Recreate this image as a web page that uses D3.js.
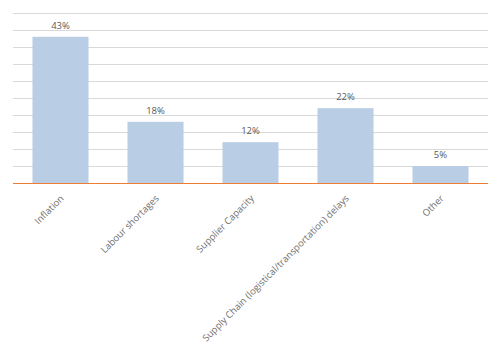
<!DOCTYPE html>
<html><head><meta charset="utf-8">
<script src="https://cdn.jsdelivr.net/npm/d3@7"></script>
<style>body{margin:0;background:#fff}</style>
</head><body>
<script>
const categories = ["Inflation","Labour shortages","Supplier Capacity","Supply Chain (logistical/transportation) delays","Other"];
const values = [43,18,12,22,5];
const valueLabels = ["43%","18%","12%","22%","5%"];
const gridTicks = [0,5,10,15,20,25,30,35,40,45,50];

const W=500,H=359;
const svg=d3.select("body").append("svg").attr("width",W).attr("height",H);
const x=d3.scaleBand().domain(categories).range([13,488]).paddingInner(0.41).paddingOuter(0.205);
const y=d3.scaleLinear().domain([0,50]).range([183,13]);
const font="'Open Sans', 'Liberation Sans', sans-serif";

svg.append("g").selectAll("line").data(gridTicks.slice(1)).join("line")
  .attr("x1",13).attr("x2",488).attr("y1",d=>Math.round(y(d))+0.5).attr("y2",d=>Math.round(y(d))+0.5)
  .attr("stroke","#d9d9d9").attr("stroke-width",1);

svg.append("g").selectAll("rect").data(values).join("rect")
  .attr("x",(d,i)=>x(categories[i])).attr("width",x.bandwidth())
  .attr("y",d=>y(d)).attr("height",d=>y(0)-y(d)).attr("fill","#b9cde5");

svg.append("line").attr("x1",13).attr("x2",488).attr("y1",y(0)+0.5).attr("y2",y(0)+0.5)
  .attr("stroke","#ed7d31").attr("stroke-width",1.2);

svg.append("g").selectAll("text").data(values).join("text")
  .attr("x",(d,i)=>x(categories[i])+x.bandwidth()/2).attr("y",d=>y(d)-8)
  .attr("text-anchor","middle").attr("font-family",font).attr("font-size",9.5).attr("fill","#595959")
  .text((d,i)=>valueLabels[i]);

const ax=d3.axisBottom(x).tickSize(0).tickPadding(0);
const g=svg.append("g").attr("transform",`translate(0,${y(0)})`).call(ax);
g.select(".domain").remove();
g.selectAll("text").attr("font-family",font).attr("font-size",9.5).attr("fill","#6f6f6f")
  .attr("text-anchor","end").attr("dy",0).attr("y",0)
  .attr("transform","translate(4,16) rotate(-45)");
</script>
</body></html>
